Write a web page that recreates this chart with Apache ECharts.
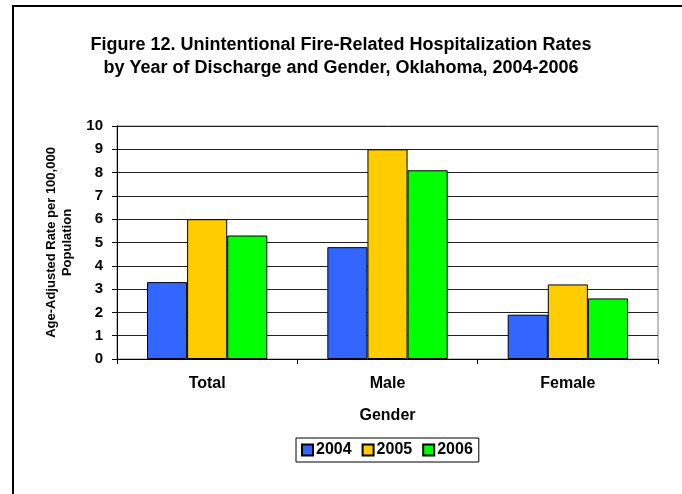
<!DOCTYPE html>
<html>
<head>
<meta charset="utf-8">
<script src="https://cdn.jsdelivr.net/npm/echarts@6/dist/echarts.min.js"></script>
<style>html,body{margin:0;padding:0;background:#fff;}#c{width:682px;height:494px;}</style>
</head>
<body>
<div id="c"></div>
<script>
var categories = ['Total', 'Male', 'Female'];
var years = ['2004', '2005', '2006'];
var values2004 = [3.3, 4.8, 1.9];
var values2005 = [6.0, 9.0, 3.2];
var values2006 = [5.3, 8.1, 2.6];
var yTicks = [0, 1, 2, 3, 4, 5, 6, 7, 8, 9, 10];
var colors = ['#3366FF', '#FFCC00', '#00FF00'];

var FONT = '"Liberation Sans", Arial, sans-serif';
var chart = echarts.init(document.getElementById('c'), null, {renderer: 'canvas'});
var seriesData = [values2004, values2005, values2006];
chart.setOption({
  animation: false,
  backgroundColor: '#ffffff',
  graphic: [{
    type: 'rect',
    shape: {x: 13, y: 6, width: 720, height: 540},
    style: {fill: 'none', stroke: '#000', lineWidth: 2}
  }],
  title: {
    text: 'Figure 12. Unintentional Fire-Related Hospitalization Rates\nby Year of Discharge and Gender, Oklahoma, 2004-2006',
    left: 'center',
    top: 29,
    textStyle: {fontFamily: FONT, fontWeight: 'bold', fontSize: 18, color: '#000', lineHeight: 23, align: 'center'}
  },
  legend: {
    data: years,
    top: 438,
    left: 296,
    itemWidth: 11,
    itemHeight: 11,
    itemGap: 10,
    padding: [4, 6, 4, 5],
    borderColor: '#000',
    borderWidth: 1,
    icon: 'rect',
    textStyle: {fontFamily: FONT, fontWeight: 'bold', fontSize: 16, color: '#000', padding: [0, 0, 0, -2]}
  },
  grid: {
    left: 117, top: 126, right: 24, bottom: 135,
    show: true, borderColor: '#808080', borderWidth: 1, backgroundColor: 'transparent'
  },
  xAxis: {
    type: 'category',
    data: categories,
    name: 'Gender',
    nameLocation: 'middle',
    nameGap: 49,
    nameTextStyle: {fontFamily: FONT, fontWeight: 'bold', fontSize: 16, color: '#000'},
    axisLine: {lineStyle: {color: '#000', width: 1}},
    axisTick: {show: true, length: 5, lineStyle: {color: '#000'}},
    axisLabel: {fontFamily: FONT, fontWeight: 'bold', fontSize: 16, color: '#000', margin: 17}
  },
  yAxis: {
    type: 'value',
    min: yTicks[0],
    max: yTicks[yTicks.length - 1],
    interval: 1,
    name: 'Age-Adjusted Rate per 100,000\nPopulation',
    nameLocation: 'middle',
    nameRotate: 90,
    nameGap: 42,
    nameTextStyle: {fontFamily: FONT, fontWeight: 'bold', fontSize: 13, color: '#000', lineHeight: 16},
    axisLine: {show: true, lineStyle: {color: '#000', width: 1}},
    axisTick: {show: true, length: 5, lineStyle: {color: '#000'}},
    axisLabel: {fontFamily: FONT, fontWeight: 'bold', fontSize: 15, color: '#000', margin: 14},
    splitLine: {show: true, lineStyle: {color: '#222', width: 1}}
  },
  series: years.map(function (y, i) {
    return {
      name: y,
      type: 'bar',
      data: seriesData[i],
      barGap: '0%',
      barCategoryGap: '33.3%',
      itemStyle: {color: colors[i], borderColor: '#000', borderWidth: 1}
    };
  })
});
</script>
</body>
</html>
